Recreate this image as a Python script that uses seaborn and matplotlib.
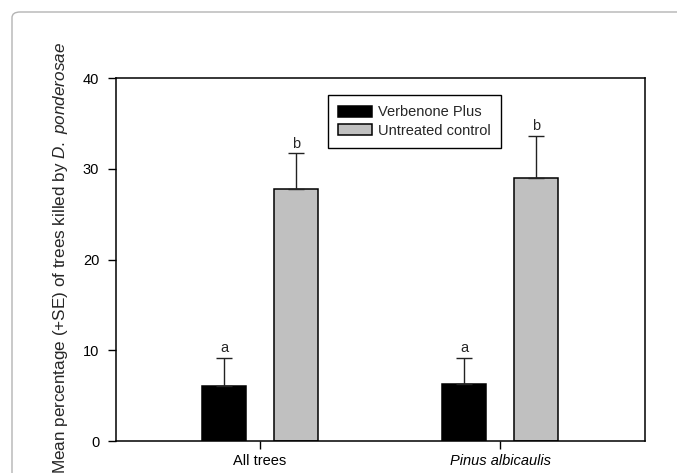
import pandas as pd
import seaborn as sns
from matplotlib import pyplot as plt
from matplotlib.patches import FancyBboxPatch

# values
groups = ["All trees", "Pinus albicaulis"]
treatments = ["Verbenone Plus", "Untreated control"]
verbenone_mean = [6.1, 6.3]
control_mean = [27.8, 29.0]
verbenone_se = [3.1, 2.9]
control_se = [3.9, 4.6]
verbenone_letters = ["a", "a"]
control_letters = ["b", "b"]
y_ticks = [0, 10, 20, 30, 40]

sns.set_style("ticks")
plt.rcParams["font.family"] = ["Liberation Sans", "DejaVu Sans"]
plt.rcParams["mathtext.fontset"] = "custom"
plt.rcParams["mathtext.rm"] = "Liberation Sans"
plt.rcParams["mathtext.it"] = "Liberation Sans:italic"

df = pd.DataFrame(
    {
        "group": groups * 2,
        "treatment": [treatments[0]] * 2 + [treatments[1]] * 2,
        "mean": verbenone_mean + control_mean,
    }
)

fig = plt.figure(figsize=(6.77, 4.73), dpi=100)
# rounded grey frame around the figure, cut off on the right and bottom
fig.patches.append(
    FancyBboxPatch(
        (12 / 677, -0.1),
        1.2,
        (473 - 12) / 473 + 0.1,
        boxstyle="round,pad=0,rounding_size=0.012",
        transform=fig.transFigure,
        facecolor="none",
        edgecolor="#b4b4b4",
        linewidth=1.0,
    )
)
ax = fig.add_axes([116 / 677, 32 / 473, 529 / 677, 363 / 473])

sns.barplot(
    data=df,
    x="group",
    y="mean",
    hue="treatment",
    order=groups,
    hue_order=treatments,
    palette=["black", "#c0c0c0"],
    edgecolor="black",
    linewidth=1.1,
    width=0.6,
    gap=0.39,
    errorbar=None,
    ax=ax,
)

for container, ses, letters in zip(
    ax.containers, [verbenone_se, control_se], [verbenone_letters, control_letters]
):
    for bar, se, letter in zip(container, ses, letters):
        x = bar.get_x() + bar.get_width() / 2
        top = bar.get_height()
        ax.errorbar(
            x, top, yerr=[[0], [se]], fmt="none", ecolor="#222222",
            elinewidth=1.0, capsize=6, capthick=1.0,
        )
        ax.annotate(
            letter, (x, top + se), xytext=(0, 2), textcoords="offset points",
            ha="center", va="bottom", fontsize=10.5,
        )

ax.set_xlim(-0.6, 1.604)
ax.set_ylim(0, 40)
ax.set_yticks(y_ticks)
ax.set_xlabel("")
ax.set_ylabel("")
ax.tick_params(axis="both", direction="out", length=6, width=1.0, labelsize=10.5, colors="black")
ax.tick_params(axis="y", pad=6)
ax.get_xticklabels()[1].set_fontstyle("italic")
for spine in ax.spines.values():
    spine.set_visible(True)
    spine.set_color("black")
    spine.set_linewidth(1.1)

handles, labels = ax.get_legend_handles_labels()
ax.legend(
    handles, labels, loc="upper left", bbox_to_anchor=(0.401, 0.953),
    borderaxespad=0, fancybox=False, framealpha=1, edgecolor="black",
    fontsize=10.5, handlelength=2.3, handleheight=0.75, handletextpad=0.45,
    borderpad=0.7, labelspacing=0.3,
)
ax.get_legend().get_frame().set_linewidth(1.0)

fig.text(
    61 / 677, (473 - 258) / 473,
    r"Mean percentage (+SE) of trees killed by $\it{D.\ ponderosae}$",
    rotation=90, ha="center", va="center", fontsize=12.3,
)

fig.savefig("out.png", dpi=100)
